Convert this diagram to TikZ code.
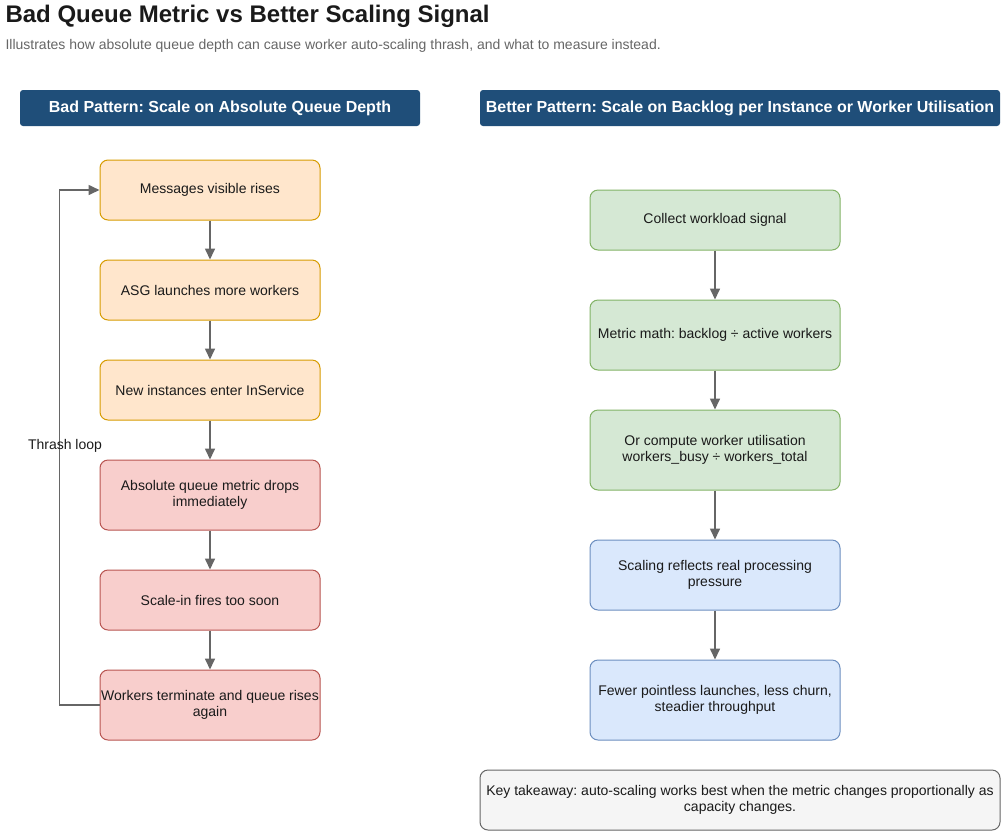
\documentclass[tikz,border=0pt]{standalone}
\usepackage{fontspec}
\setmainfont{Liberation Sans}
\usepackage{tikz}
\usetikzlibrary{arrows.meta, positioning}
\usepackage{xcolor}
\frenchspacing
\definecolor{hdrblue}{HTML}{1F4E79}
\definecolor{inkgray}{HTML}{1A1A1A}
\definecolor{subgray}{HTML}{666666}
\definecolor{orangefill}{HTML}{FFE6CC}
\definecolor{orangeline}{HTML}{D79B00}
\definecolor{redfill}{HTML}{F8CECC}
\definecolor{redline}{HTML}{B85450}
\definecolor{greenfill}{HTML}{D5E8D4}
\definecolor{greenline}{HTML}{82B366}
\definecolor{bluefill}{HTML}{DAE8FC}
\definecolor{blueline}{HTML}{6C8EBF}
\definecolor{notefill}{HTML}{F5F5F5}

\begin{document}
\begin{tikzpicture}[x=1pt, y=-1pt, every node/.style={font=\fontsize{14}{16.5}\selectfont, text=inkgray},
  box/.style={rounded corners=8pt, inner sep=0pt, align=center, line width=1pt},
  badbox/.style={box, minimum width=220pt},
  goodbox/.style={box, minimum width=250pt},
  header/.style={fill=hdrblue, rounded corners=3pt, inner sep=0pt, text=white, font=\bfseries\fontsize{16}{19}\selectfont},
  flow/.style={-{Triangle[length=11pt, width=10pt]}, draw=subgray, line width=1.6pt}]
\useasboundingbox (0,0) rectangle (1001,831);

% title and subtitle
\node[anchor=west, font=\bfseries\fontsize{24}{28}\selectfont] (title) at (2,16) {Bad Queue Metric vs Better Scaling Signal};
\node[anchor=west, text=subgray] (subtitle) at (2,46) {Illustrates how absolute queue depth can cause worker auto-scaling thrash, and what to measure instead.};

% column headers
\node[header, minimum width=400pt, minimum height=36pt] (badhdr) at (220,108) {Bad Pattern: Scale on Absolute Queue Depth};
\node[header, minimum width=520pt, minimum height=36pt] (goodhdr) at (740,108) {Better Pattern: Scale on Backlog per Instance or Worker Utilisation};

% bad pattern
\node[badbox, fill=orangefill, draw=orangeline, minimum height=60pt] (visible) at (210,190) {Messages visible rises};
\node[badbox, fill=orangefill, draw=orangeline, minimum height=60pt] (launch) at (210,290) {ASG launches more workers};
\node[badbox, fill=orangefill, draw=orangeline, minimum height=60pt] (inservice) at (210,390) {New instances enter InService};
\node[badbox, fill=redfill, draw=redline, minimum height=70pt] (drops) at (210,495) {Absolute queue metric drops\\immediately};
\node[badbox, fill=redfill, draw=redline, minimum height=60pt] (scalein) at (210,600) {Scale-in fires too soon};
\node[badbox, fill=redfill, draw=redline, minimum height=70pt] (terminate) at (210,705) {Workers terminate and queue rises\\again};

\draw[flow] (visible) -- (launch);
\draw[flow] (launch) -- (inservice);
\draw[flow] (inservice) -- (drops);
\draw[flow] (drops) -- (scalein);
\draw[flow] (scalein) -- (terminate);
\draw[flow] (terminate.west) -- ++(-40,0) |- (visible.west);
\node (thrash) at (65,446) {Thrash loop};

% better pattern
\node[goodbox, fill=greenfill, draw=greenline, minimum height=60pt] (collect) at (715,220) {Collect workload signal};
\node[goodbox, fill=greenfill, draw=greenline, minimum height=70pt] (mathnode) at (715,335) {Metric math: backlog ÷ active workers};
\node[goodbox, fill=greenfill, draw=greenline, minimum height=80pt] (util) at (715,450) {Or compute worker utilisation\\workers\_busy ÷ workers\_total};
\node[goodbox, fill=bluefill, draw=blueline, minimum height=70pt] (pressure) at (715,575) {Scaling reflects real processing\\pressure};
\node[goodbox, fill=bluefill, draw=blueline, minimum height=80pt] (fewer) at (715,700) {Fewer pointless launches, less churn,\\steadier throughput};

\draw[flow] (collect) -- (mathnode);
\draw[flow] (mathnode) -- (util);
\draw[flow] (util) -- (pressure);
\draw[flow] (pressure) -- (fewer);

% takeaway
\node[box, fill=notefill, draw=subgray, minimum width=520pt, minimum height=60pt] (takeaway) at (740,800) {Key takeaway: auto-scaling works best when the metric changes proportionally as\\capacity changes.};
\end{tikzpicture}
\end{document}
